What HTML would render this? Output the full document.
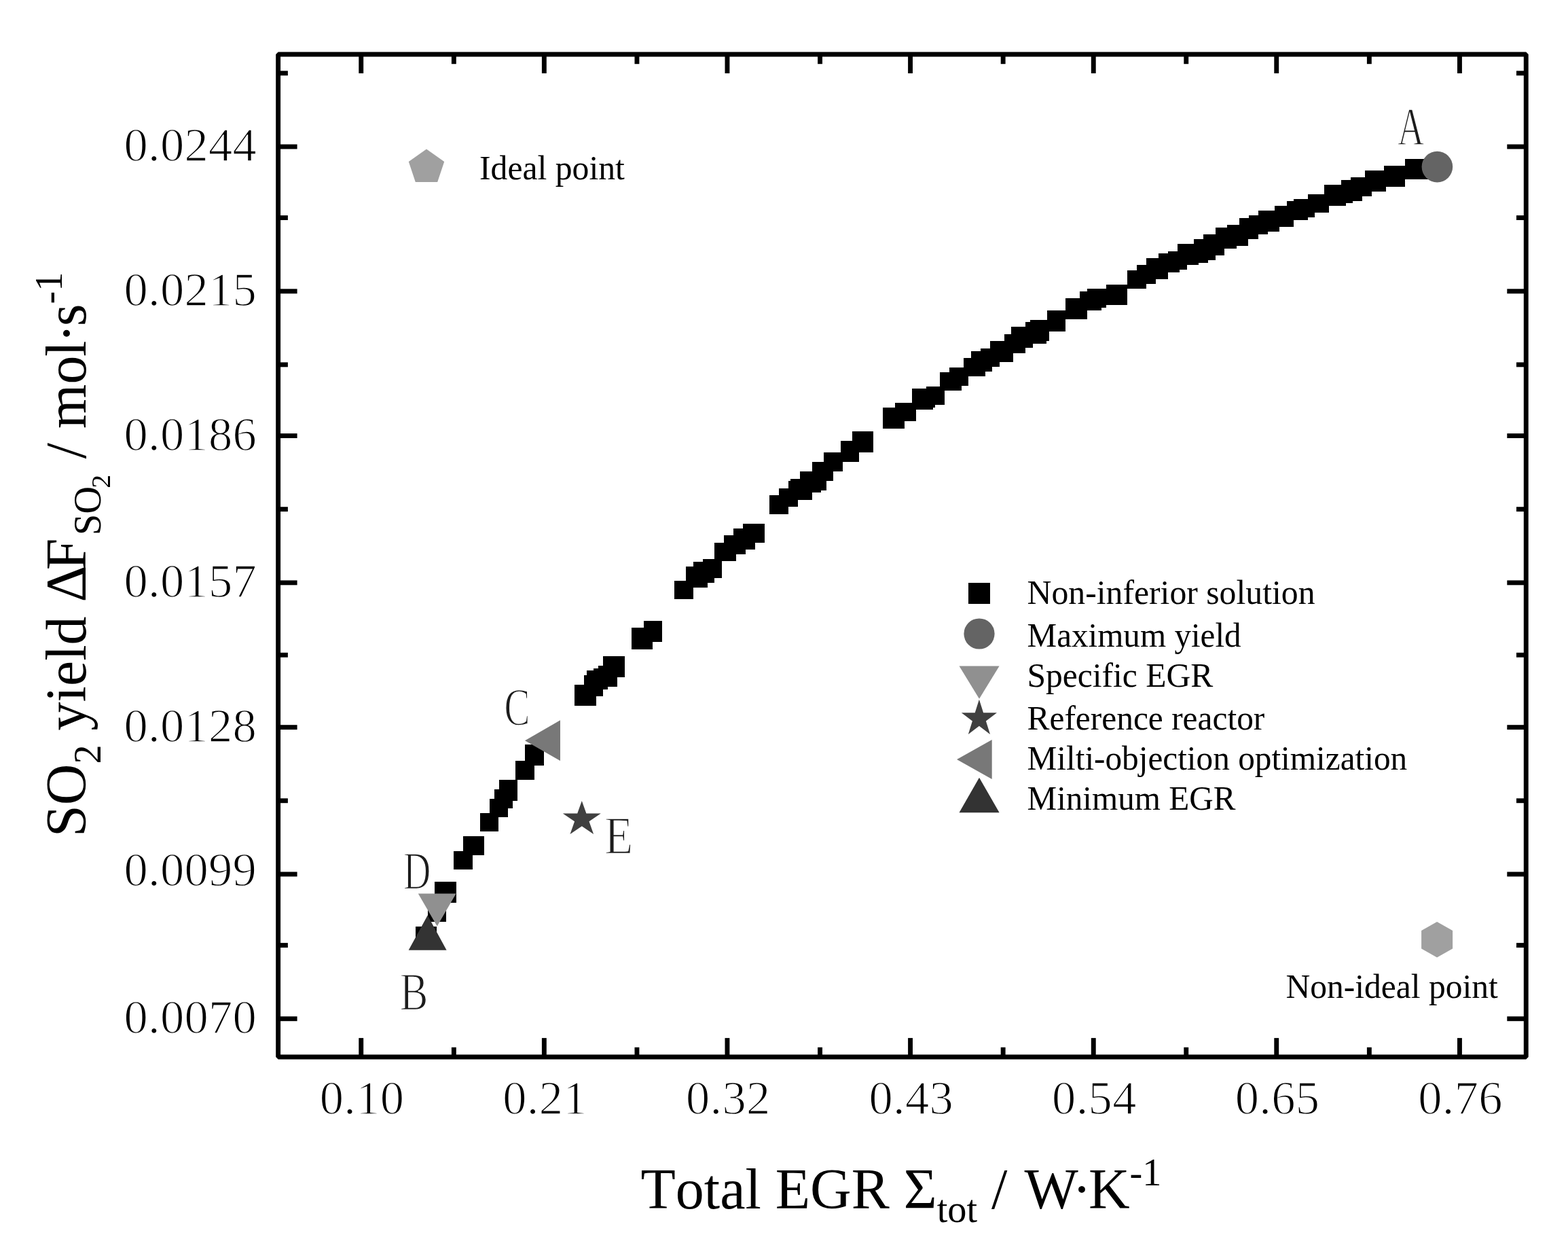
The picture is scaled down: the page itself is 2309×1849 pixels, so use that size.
<!DOCTYPE html>
<html lang="en">
<head>
<meta charset="utf-8">
<title>SO2 yield versus total EGR - Pareto front</title>
<style>
html,body{margin:0;padding:0;background:#fff;}
body{width:2309px;height:1849px;}
svg{display:block;}
text{font-family:"Liberation Serif", "DejaVu Serif", serif;fill:#000;font-kerning:none;font-variant-ligatures:none;}
.tick{font-size:70.5px;letter-spacing:0.3px;fill:#1c1c1c;stroke:#fff;stroke-width:1.4px;}
.leg{font-size:51.5px;}
.ttl{font-size:84px;}
.pt{font-size:79px;fill:#1c1c1c;stroke:#fff;stroke-width:1.6px;}
</style>
</head>
<body>
<svg width="2309" height="1849" viewBox="0 0 2309 1849" role="img" aria-label="Scatter plot of SO2 yield against total entropy generation rate">
<rect x="0" y="0" width="2309" height="1849" fill="#ffffff"/>
<g id="series-noninferior" fill="#000000" shape-rendering="crispEdges">
<rect x="612.2" y="1364.1" width="30.8" height="30.9"/>
<rect x="629.6" y="1329.0" width="27.8" height="27.9"/>
<rect x="640.2" y="1298.0" width="31.4" height="30.6"/>
<polygon points="668.2,1280.1 668.2,1252.8 682.1,1252.8 682.1,1231.4 713.3,1231.4 713.3,1259.1 696.0,1259.1 696.0,1280.1"/>
<polygon points="706.6,1224.4 706.6,1196.6 720.7,1196.6 720.7,1175.8 727.6,1175.8 727.6,1161.9 734.6,1161.9 734.6,1148.0 759.1,1148.0 759.1,1119.9 773.0,1119.9 773.0,1095.5 800.8,1095.5 800.8,1126.6 786.9,1126.6 786.9,1147.6 762.2,1147.6 762.2,1178.6 755.4,1178.6 755.4,1189.5 748.1,1189.5 748.1,1203.4 734.4,1203.4 734.4,1224.4"/>
<polygon points="846.2,1039.2 846.2,1008.2 860.1,1008.2 860.1,994.3 863.9,994.3 863.9,987.2 874.2,987.2 874.2,983.7 881.1,983.7 881.1,980.4 888.2,980.4 888.2,966.1 919.5,966.1 919.5,997.1 908.9,997.1 908.9,1011.4 895.0,1011.4 895.0,1014.7 888.2,1014.7 888.2,1025.3 877.8,1025.3 877.8,1039.2"/>
<polygon points="930.1,955.5 930.1,924.3 947.5,924.3 947.5,914.0 975.4,914.0 975.4,944.9 961.4,944.9 961.4,955.5"/>
<polygon points="993.0,882.2 993.0,854.6 1010.4,854.6 1010.4,834.0 1020.9,834.0 1020.9,826.5 1034.8,826.5 1034.8,823.1 1052.4,823.1 1052.4,798.7 1066.3,798.7 1066.3,788.3 1080.2,788.3 1080.2,777.8 1094.4,777.8 1094.4,770.9 1125.7,770.9 1125.7,798.5 1111.5,798.5 1111.5,808.9 1097.6,808.9 1097.6,815.9 1083.7,815.9 1083.7,826.3 1062.6,826.3 1062.6,850.6 1052.4,850.6 1052.4,857.8 1041.7,857.8 1041.7,864.6 1020.9,864.6 1020.9,882.2"/>
<polygon points="1132.9,756.7 1132.9,729.1 1146.8,729.1 1146.8,718.5 1160.7,718.5 1160.7,708.0 1164.2,708.0 1164.2,704.5 1178.1,704.5 1178.1,694.1 1195.7,694.1 1195.7,680.2 1213.1,680.2 1213.1,666.3 1237.5,666.3 1237.5,648.9 1255.1,648.9 1255.1,635.0 1286.2,635.0 1286.2,665.8 1265.3,665.8 1265.3,679.7 1241.0,679.7 1241.0,693.9 1226.8,693.9 1226.8,708.0 1216.6,708.0 1216.6,721.9 1209.4,721.9 1209.4,725.4 1195.5,725.4 1195.5,735.9 1174.6,735.9 1174.6,746.3 1160.5,746.3 1160.5,756.7"/>
<polygon points="1300.4,630.9 1300.4,600.0 1318.0,600.0 1318.0,593.1 1342.6,593.1 1342.6,572.2 1363.5,572.2 1363.5,568.7 1384.4,568.7 1384.4,547.8 1398.3,547.8 1398.3,540.9 1419.1,540.9 1419.1,526.5 1430.0,526.5 1430.0,516.5 1444.0,516.5 1444.0,512.6 1457.9,512.6 1457.9,502.4 1478.7,502.4 1478.7,492.0 1489.2,492.0 1489.2,481.1 1510.1,481.1 1510.1,474.3 1517.0,474.3 1517.0,470.9 1541.6,470.9 1541.6,456.9 1569.4,456.9 1569.4,439.3 1590.3,439.3 1590.3,428.9 1601.0,428.9 1601.0,425.4 1629.0,425.4 1629.0,418.7 1660.3,418.7 1660.3,397.6 1674.2,397.6 1674.2,390.4 1688.3,390.4 1688.3,380.1 1705.7,380.1 1705.7,372.9 1719.9,372.9 1719.9,369.5 1733.8,369.5 1733.8,359.0 1758.4,359.0 1758.4,352.1 1772.3,352.1 1772.3,345.1 1789.7,345.1 1789.7,334.7 1807.1,334.7 1807.1,331.2 1824.7,331.2 1824.7,320.5 1838.6,320.5 1838.6,317.1 1852.5,317.1 1852.5,310.3 1877.1,310.3 1877.1,303.1 1894.5,303.1 1894.5,296.2 1905.0,296.2 1905.0,292.9 1925.8,292.9 1925.8,286.0 1950.4,286.0 1950.4,272.1 1975.0,272.1 1975.0,264.9 1988.9,264.9 1988.9,261.4 2009.8,261.4 2009.8,251.0 2037.8,251.0 2037.8,244.2 2069.1,244.2 2069.1,233.8 2104.4,233.8 2104.4,264.0 2068.9,264.0 2068.9,275.1 2040.9,275.1 2040.9,282.0 2020.0,282.0 2020.0,289.0 2005.8,289.0 2005.8,296.0 1991.9,296.0 1991.9,299.4 1981.5,299.4 1981.5,302.9 1957.1,302.9 1957.1,313.3 1936.0,313.3 1936.0,320.3 1925.6,320.3 1925.6,323.8 1904.7,323.8 1904.7,334.2 1883.8,334.2 1883.8,341.2 1866.5,341.2 1866.5,344.7 1852.5,344.7 1852.5,351.6 1838.4,351.6 1838.4,362.1 1821.0,362.1 1821.0,365.5 1803.4,365.5 1803.4,376.0 1789.5,376.0 1789.5,382.9 1779.0,382.9 1779.0,386.6 1764.9,386.6 1764.9,390.1 1747.5,390.1 1747.5,397.1 1737.1,397.1 1737.1,400.5 1719.7,400.5 1719.7,411.0 1702.3,411.0 1702.3,418.2 1688.3,418.2 1688.3,425.1 1659.9,425.1 1659.9,449.3 1628.6,449.3 1628.6,453.2 1621.6,453.2 1621.6,456.5 1600.7,456.5 1600.7,470.4 1569.2,470.4 1569.2,487.6 1544.8,487.6 1544.8,501.9 1541.4,501.9 1541.4,505.6 1520.5,505.6 1520.5,512.4 1509.8,512.4 1509.8,519.6 1492.4,519.6 1492.4,533.2 1471.6,533.2 1471.6,540.4 1461.1,540.4 1461.1,547.4 1450.7,547.4 1450.7,554.3 1426.1,554.3 1426.1,568.0 1415.7,568.0 1415.7,575.0 1391.1,575.0 1391.1,596.1 1377.2,596.1 1377.2,599.6 1373.7,599.6 1373.7,603.0 1349.1,603.0 1349.1,620.4 1331.7,620.4 1331.7,630.9"/>
</g>
<g id="markers">
<polygon points="601.7,1398.7 657.6,1398.7 629.7,1347.5" fill="#333333"/>
<polygon points="615.8,1315.4 671.6,1315.4 643.7,1363.4" fill="#909090"/>
<polygon points="773.0,1090.2 825.0,1060.3 825.0,1120.0" fill="#787878"/>
<polygon points="856.8,1178.9 863.4,1197.6 884.8,1197.6 867.5,1209.2 874.1,1227.9 856.8,1216.3 839.5,1227.9 846.1,1209.2 828.8,1197.6 850.2,1197.6" fill="#404040"/>
<circle cx="2116.4" cy="245.6" r="22.8" fill="#646464"/>
<polygon points="628.0,219.4 654.2,238.0 644.2,268.0 611.8,268.0 601.8,238.0" fill="#a0a0a0"/>
<polygon points="2116.1,1356.9 2139.1,1370.0 2139.1,1396.4 2116.1,1409.5 2093.1,1396.4 2093.1,1370.0" fill="#a0a0a0"/>
</g>
<g id="legend">
<rect x="1426.4" y="858.3" width="31.3" height="30.8" fill="#000000" shape-rendering="crispEdges"/>
<circle cx="1442.0" cy="933.0" r="22.6" fill="#646464"/>
<polygon points="1412.5,980.5 1471.6,980.5 1442.0,1028.7" fill="#909090"/>
<polygon points="1441.9,1029.8 1448.1,1049.3 1468.0,1049.3 1451.9,1061.4 1458.0,1080.9 1441.9,1068.8 1425.8,1080.9 1431.9,1061.4 1415.8,1049.3 1435.7,1049.3" fill="#404040"/>
<polygon points="1409.0,1118.0 1460.7,1089.0 1460.7,1147.0" fill="#787878"/>
<polygon points="1412.5,1196.2 1471.6,1196.2 1442.0,1144.7" fill="#333333"/>
<text class="leg" x="1512.5" y="889.1" textLength="424.0" lengthAdjust="spacingAndGlyphs">Non-inferior solution</text>
<text class="leg" x="1512.5" y="952.2" textLength="315.1" lengthAdjust="spacingAndGlyphs">Maximum yield</text>
<text class="leg" x="1512.5" y="1011.3" textLength="273.8" lengthAdjust="spacingAndGlyphs">Specific EGR</text>
<text class="leg" x="1512.5" y="1074.0" textLength="349.8" lengthAdjust="spacingAndGlyphs">Reference reactor</text>
<text class="leg" x="1512.5" y="1133.1" textLength="559.7" lengthAdjust="spacingAndGlyphs">Milti-objection optimization</text>
<text class="leg" x="1512.5" y="1192.2" textLength="306.9" lengthAdjust="spacingAndGlyphs">Minimum EGR</text>
</g>
<g id="annotations">
<text class="leg" x="706.0" y="264.3" textLength="213.9" lengthAdjust="spacingAndGlyphs">Ideal point</text>
<text class="leg" x="1893.5" y="1468.8" textLength="312.3" lengthAdjust="spacingAndGlyphs">Non-ideal point</text>
<text class="pt" x="2058.0" y="211.5" textLength="39.3" lengthAdjust="spacingAndGlyphs">A</text>
<text class="pt" x="588.8" y="1485.6" textLength="41.7" lengthAdjust="spacingAndGlyphs">B</text>
<text class="pt" x="742.6" y="1066.6" textLength="37.9" lengthAdjust="spacingAndGlyphs">C</text>
<text class="pt" x="593.9" y="1307.6" textLength="40.3" lengthAdjust="spacingAndGlyphs">D</text>
<text class="pt" x="889.9" y="1255.6" textLength="42.3" lengthAdjust="spacingAndGlyphs">E</text>
</g>
<g id="axes" fill="#000000">
<rect x="409.65" y="79.95" width="1837.60" height="1476.10" fill="none" stroke="#000000" stroke-width="6.9" stroke-linejoin="bevel"/>
<rect x="528.3" y="1528.1" width="6.9" height="25.5"/>
<rect x="528.3" y="82.4" width="6.9" height="25.5"/>
<rect x="664.9" y="1541.8" width="6.9" height="11.8"/>
<rect x="664.9" y="82.4" width="6.9" height="11.8"/>
<rect x="797.9" y="1528.1" width="6.9" height="25.5"/>
<rect x="797.9" y="82.4" width="6.9" height="25.5"/>
<rect x="934.5" y="1541.8" width="6.9" height="11.8"/>
<rect x="934.5" y="82.4" width="6.9" height="11.8"/>
<rect x="1067.5" y="1528.1" width="6.9" height="25.5"/>
<rect x="1067.5" y="82.4" width="6.9" height="25.5"/>
<rect x="1204.1" y="1541.8" width="6.9" height="11.8"/>
<rect x="1204.1" y="82.4" width="6.9" height="11.8"/>
<rect x="1337.1" y="1528.1" width="6.9" height="25.5"/>
<rect x="1337.1" y="82.4" width="6.9" height="25.5"/>
<rect x="1473.7" y="1541.8" width="6.9" height="11.8"/>
<rect x="1473.7" y="82.4" width="6.9" height="11.8"/>
<rect x="1606.8" y="1528.1" width="6.9" height="25.5"/>
<rect x="1606.8" y="82.4" width="6.9" height="25.5"/>
<rect x="1743.3" y="1541.8" width="6.9" height="11.8"/>
<rect x="1743.3" y="82.4" width="6.9" height="11.8"/>
<rect x="1876.3" y="1528.1" width="6.9" height="25.5"/>
<rect x="1876.3" y="82.4" width="6.9" height="25.5"/>
<rect x="2012.9" y="1541.8" width="6.9" height="11.8"/>
<rect x="2012.9" y="82.4" width="6.9" height="11.8"/>
<rect x="2146.0" y="1528.1" width="6.9" height="25.5"/>
<rect x="2146.0" y="82.4" width="6.9" height="25.5"/>
<rect x="412.1" y="212.5" width="25.5" height="6.9"/>
<rect x="2219.3" y="212.5" width="25.5" height="6.9"/>
<rect x="412.1" y="425.3" width="25.5" height="6.9"/>
<rect x="2219.3" y="425.3" width="25.5" height="6.9"/>
<rect x="412.1" y="638.1" width="25.5" height="6.9"/>
<rect x="2219.3" y="638.1" width="25.5" height="6.9"/>
<rect x="412.1" y="854.4" width="25.5" height="6.9"/>
<rect x="2219.3" y="854.4" width="25.5" height="6.9"/>
<rect x="412.1" y="1067.2" width="25.5" height="6.9"/>
<rect x="2219.3" y="1067.2" width="25.5" height="6.9"/>
<rect x="412.1" y="1283.5" width="25.5" height="6.9"/>
<rect x="2219.3" y="1283.5" width="25.5" height="6.9"/>
<rect x="412.1" y="1496.3" width="25.5" height="6.9"/>
<rect x="2219.3" y="1496.3" width="25.5" height="6.9"/>
<rect x="412.1" y="104.3" width="11.8" height="6.9"/>
<rect x="2233.0" y="104.3" width="11.8" height="6.9"/>
<rect x="412.1" y="317.1" width="11.8" height="6.9"/>
<rect x="2233.0" y="317.1" width="11.8" height="6.9"/>
<rect x="412.1" y="533.4" width="11.8" height="6.9"/>
<rect x="2233.0" y="533.4" width="11.8" height="6.9"/>
<rect x="412.1" y="746.2" width="11.8" height="6.9"/>
<rect x="2233.0" y="746.2" width="11.8" height="6.9"/>
<rect x="412.1" y="960.8" width="11.8" height="6.9"/>
<rect x="2233.0" y="960.8" width="11.8" height="6.9"/>
<rect x="412.1" y="1175.3" width="11.8" height="6.9"/>
<rect x="2233.0" y="1175.3" width="11.8" height="6.9"/>
<rect x="412.1" y="1388.1" width="11.8" height="6.9"/>
<rect x="2233.0" y="1388.1" width="11.8" height="6.9"/>
</g>
<g id="xticklabels" class="tick" text-anchor="middle">
<text x="533.0" y="1639.9">0.10</text>
<text x="802.6" y="1639.9">0.21</text>
<text x="1072.2" y="1639.9">0.32</text>
<text x="1341.8" y="1639.9">0.43</text>
<text x="1611.4" y="1639.9">0.54</text>
<text x="1881.0" y="1639.9">0.65</text>
<text x="2150.6" y="1639.9">0.76</text>
</g>
<g id="yticklabels" class="tick" text-anchor="end">
<text x="378.2" y="236.8">0.0244</text>
<text x="378.2" y="449.6">0.0215</text>
<text x="378.2" y="662.5">0.0186</text>
<text x="378.2" y="878.8">0.0157</text>
<text x="378.2" y="1091.6">0.0128</text>
<text x="378.2" y="1304.4">0.0099</text>
<text x="378.2" y="1520.7">0.0070</text>
</g>
<g id="titles" class="ttl">
<text x="943.5" y="1778.5">Total EGR Σ<tspan font-size="56.3" dy="20.4">tot</tspan><tspan dy="-20.4" dx="0 0 0 4 -8.8 -4"> / W·K</tspan><tspan font-size="56.3" dy="-34">-1</tspan></text>
<text transform="translate(126.1 1232) rotate(-90)" x="0" y="0">SO<tspan font-size="56.3" dy="22">2</tspan><tspan dy="-22" dx="0 0 0 0 0 0 0 0 -6.7"> yield ΔF</tspan><tspan font-size="56.3" dy="22" dx="4.5">SO</tspan><tspan font-size="40" dy="14" dx="-2.8">2</tspan><tspan dy="-36" dx="2.5 0 0 0 0 -1.5 -3 -3.4"> / mol·s</tspan><tspan font-size="56.3" dy="-35">-1</tspan></text>
</g>
</svg>
</body>
</html>
